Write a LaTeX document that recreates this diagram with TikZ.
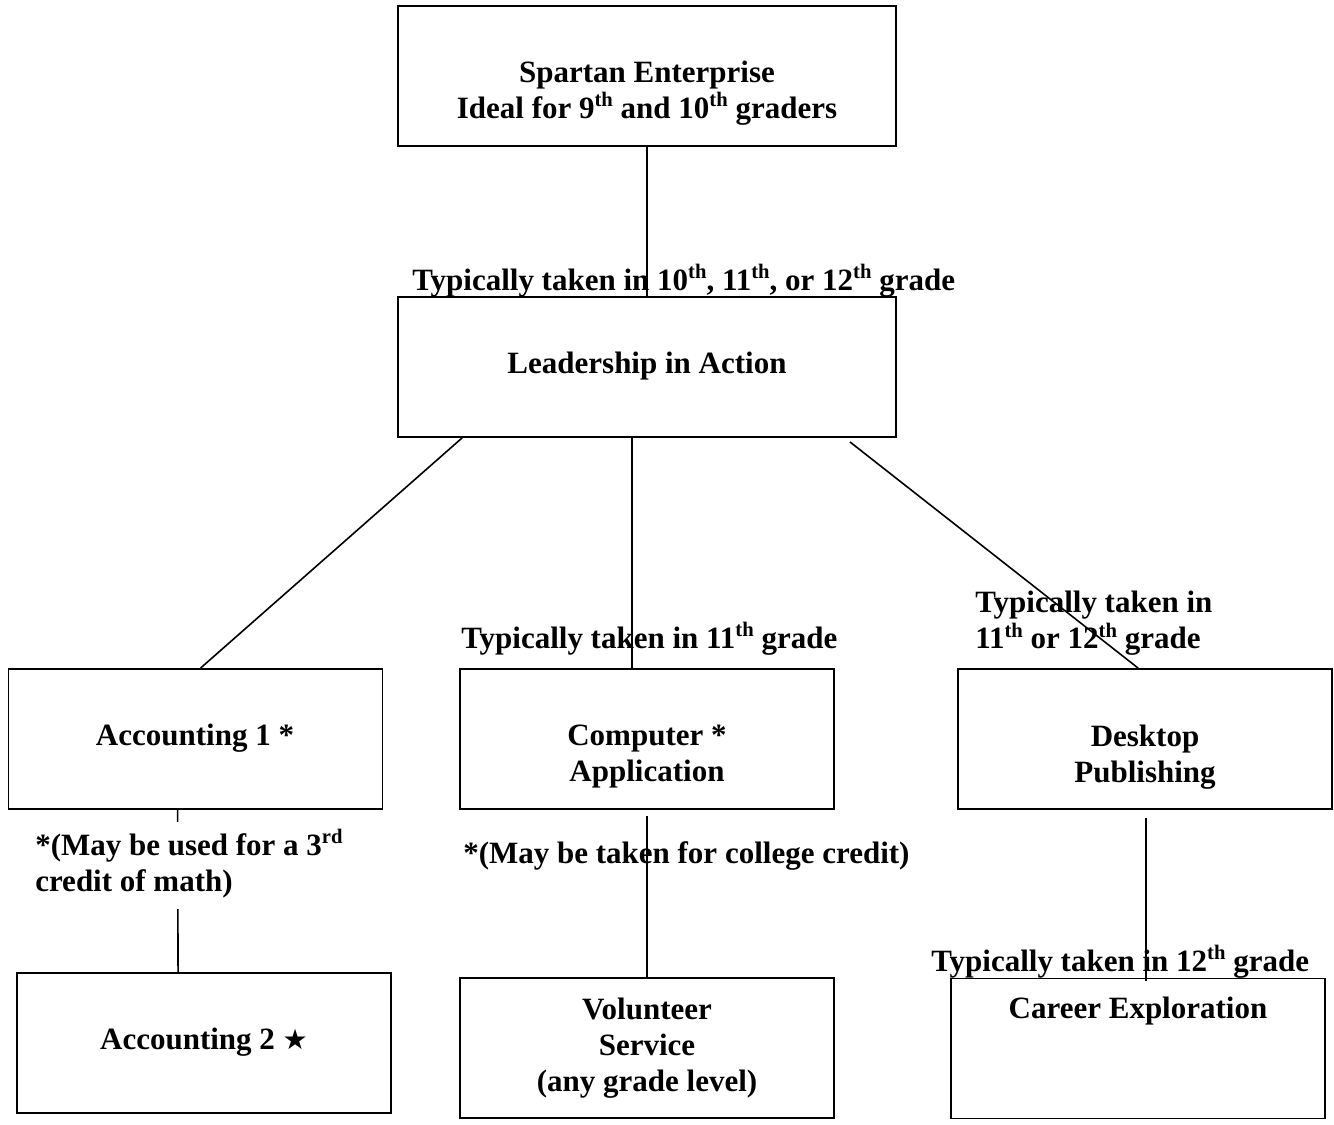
\documentclass[tikz,border=0pt]{standalone}
\usepackage{fontspec}
\setmainfont{Liberation Serif}
\newfontfamily\starfont{DejaVu Sans}
\usetikzlibrary{calc}

% superscript as Word sets it
\newcommand{\sups}[1]{\raisebox{0.38em}{\fontsize{15.5}{15.5}\selectfont #1}}
\newcommand{\blackstar}{{\starfont\fontsize{21}{21}\selectfont ★}}

\tikzset{
  box/.style={draw, line width=1.4pt, inner sep=0pt, minimum height=105pt},
  widebox/.style={box, minimum width=373.5pt},
  smallbox/.style={box, minimum width=280.5pt},
  txt/.style={font=\bfseries\fontsize{23.25}{27}\selectfont, inner sep=0pt,
    align=center, anchor=north, execute at begin node=\strut},
  lefttxt/.style={txt, align=left, anchor=north west},
  link/.style={line width=1.2pt}
}

\begin{document}
\begin{tikzpicture}[x=0.75pt,y=-0.75pt]
\useasboundingbox (0,0) rectangle (1334,1124);

% The boxes
\node[widebox] (spartan) at (647,76) {};
\node[widebox] (leader) at (647,367) {};
\node[smallbox] (acc1) at (195.5,739) {};
\node[smallbox] (comp) at (647,739) {};
\node[smallbox] (desk) at (1145,739) {};
\node[smallbox] (acc2) at (204,1043) {};
\node[smallbox] (vol) at (647,1048) {};
\node[smallbox] (career) at (1138,1048.5) {};

% Course names inside the boxes
\node[txt] (spartanT) at (647,61) {Spartan Enterprise\\Ideal for 9\sups{th} and 10\sups{th} graders};
\node[txt] (leaderT) at (647,348) {Leadership in Action};
\node[txt] (acc1T) at (195,720) {Accounting 1 *};
\node[txt] (compT) at (647,725) {Computer *\\Application};
\node[txt] (deskT) at (1145,725) {Desktop\\Publishing};
\node[txt] (acc2T) at (204,1024) {Accounting 2 \blackstar};
\node[txt] (volT) at (647,998) {Volunteer\\Service\\(any grade level)};
\node[txt] (careerT) at (1138,993) {Career Exploration};

% Connecting lines
\draw[link] (spartan.south) -- (leader.north);
\draw[link] ($(leader.south west)+(65,0)$) -- ($(acc1.north west)+(193,0)$);
\draw[link] ($(leader.south)+(-15,0)$) -- ($(comp.north)+(-15,0)$);
\draw[link] ($(leader.south east)+(-47,4)$) -- ($(desk.north west)+(181,0)$);
\draw[link] ($(acc1.south west)+(170,0)$) -- ($(acc2.north west)+(162,0)$);
\draw[link] ($(comp.south)+(0,6)$) -- (vol.north);
\draw[link] ($(desk.south)+(0.7,8)$) -- ($(career.north)+(7.7,3)$);

% Grade notes over the lines
\node[lefttxt] (gradeA) at (412,264) {Typically taken in 10\sups{th}, 11\sups{th}, or 12\sups{th} grade};
\node[lefttxt] (gradeB) at (461,622) {Typically taken in 11\sups{th} grade};
\node[lefttxt] (gradeC) at (975,591) {Typically taken in\\11\sups{th} or 12\sups{th} grade};
\node[lefttxt] (gradeD) at (931,945) {Typically taken in 12\sups{th} grade};
\node[lefttxt, fill=white, inner ysep=5pt] (mathnote) at (35,822) {*(May be used for a 3\sups{rd}\\credit of math)};
\node[lefttxt] (collegenote) at (463,838) {*(May be taken for college credit)};

\end{tikzpicture}
\end{document}
